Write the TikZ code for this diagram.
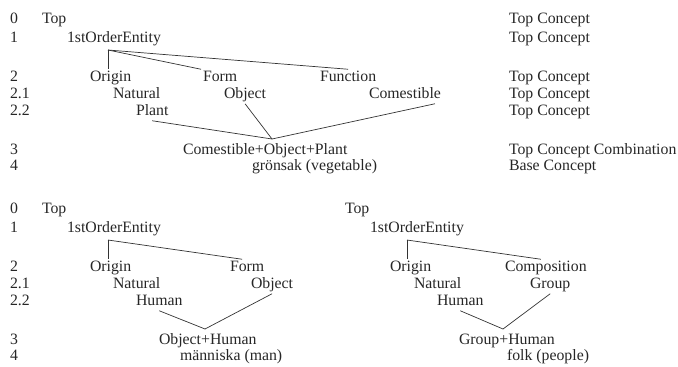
\documentclass[tikz,border=0pt]{standalone}
\usepackage{fontspec}
\setmainfont{Liberation Serif}
\usetikzlibrary{positioning}
\begin{document}
\begin{tikzpicture}[
  x=1pt,y=-1pt,
  lbl/.style={anchor=west,inner sep=0pt,outer sep=2pt,text height=10.5pt,text depth=3pt,text=black!85,font=\fontsize{15.8}{17}\selectfont},
  link/.style={line width=0.7pt,black!80}
]
  \useasboundingbox (0,0) rectangle (678,367);
  % level numbers
  \foreach \lev/\y in {0/20,1/39,2/78,2.1/95,2.2/112,3/151,4/167}
    \node[lbl] (lvA-\y) at (8,\y) {\lev};
  \foreach \lev/\y in {0/210,1/229,2/268,2.1/285,2.2/302,3/341,4/357}
    \node[lbl] (lvB-\y) at (8,\y) {\lev};
  % concept kinds
  \foreach \y/\kind in {20/Top Concept,39/Top Concept,78/Top Concept,95/Top Concept,112/Top Concept,151/Top Concept Combination,167/Base Concept}
    \node[lbl] (kind-\y) at (507,\y) {\kind};

  % upper tree
  \node[lbl] (top1) at (40,20) {Top};
  \node[lbl] (ent1) at (65,39) {1stOrderEntity};
  \node[lbl] (ori1) at (88,78) {Origin};
  \node[lbl] (form1) at (201,78) {Form};
  \node[lbl] (func1) at (318,78) {Function};
  \node[lbl] (nat1) at (111,95) {Natural};
  \node[lbl] (obj1) at (222,95) {Object};
  \node[lbl] (com1) at (367,95) {Comestible};
  \node[lbl] (plant1) at (134,112) {Plant};
  \node[lbl] (comb1) at (181,151) {Comestible+Object+Plant};
  \node[lbl] (base1) at (250,167) {grönsak (vegetable)};
  \coordinate (j1) at (108,50);
  \coordinate (k1) at (272,139);
  \draw[link] (j1) -- (j1 |- ori1.north);
  \draw[link] (j1) -- (form1.north west);
  \draw[link] (j1) -- (func1.north);
  \draw[link] (plant1.south) -- (k1);
  \draw[link] (obj1.south) -- (k1);
  \draw[link] ([xshift=-8pt]com1.south east) -- (k1);

  % lower left tree
  \node[lbl] (top2) at (40,210) {Top};
  \node[lbl] (ent2) at (65,229) {1stOrderEntity};
  \node[lbl] (ori2) at (88,268) {Origin};
  \node[lbl] (form2) at (228,268) {Form};
  \node[lbl] (nat2) at (111,285) {Natural};
  \node[lbl] (obj2) at (249,285) {Object};
  \node[lbl] (hum2) at (134,302) {Human};
  \node[lbl] (comb2) at (157,341) {Object+Human};
  \node[lbl] (base2) at (178,357) {människa (man)};
  \coordinate (j2) at (108,240);
  \coordinate (k2) at (205,329);
  \draw[link] (j2) -- (j2 |- ori2.north);
  \draw[link] (j2) -- ([xshift=-5pt]form2.north);
  \draw[link] (hum2.south) -- (k2);
  \draw[link] (obj2.south) -- (k2);

  % lower right tree
  \node[lbl] (top3) at (343,210) {Top};
  \node[lbl] (ent3) at (368,229) {1stOrderEntity};
  \node[lbl] (ori3) at (388,268) {Origin};
  \node[lbl] (compo3) at (503,268) {Composition};
  \node[lbl] (nat3) at (412,285) {Natural};
  \node[lbl] (grp3) at (528,285) {Group};
  \node[lbl] (hum3) at (435,302) {Human};
  \node[lbl] (comb3) at (457,341) {Group+Human};
  \node[lbl] (base3) at (505,357) {folk (people)};
  \coordinate (j3) at (407,240);
  \coordinate (k3) at (503,329);
  \draw[link] (j3) -- (j3 |- ori3.north);
  \draw[link] (j3) -- ([xshift=-5pt]compo3.north);
  \draw[link] (hum3.south) -- (k3);
  \draw[link] (grp3.south) -- (k3);
\end{tikzpicture}
\end{document}
